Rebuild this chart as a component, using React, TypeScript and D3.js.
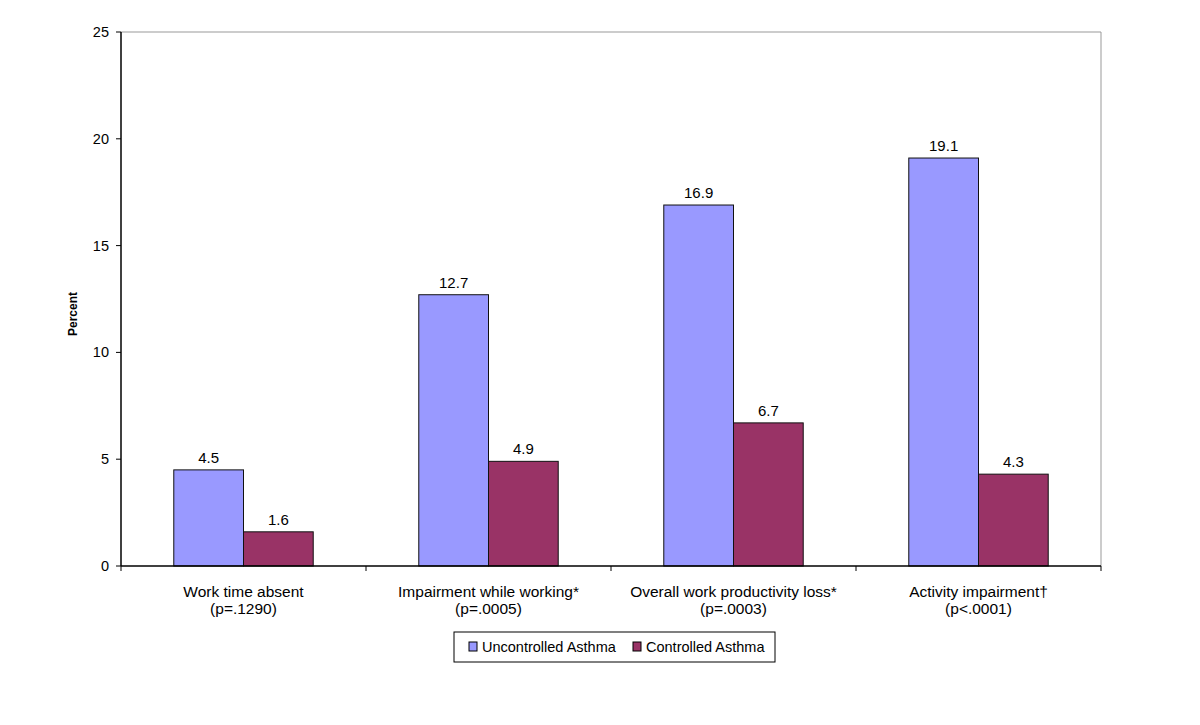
import React from "react";
import * as d3 from "d3";

const categories = [
  ["Work time absent", "(p=.1290)"],
  ["Impairment while working*", "(p=.0005)"],
  ["Overall work productivity loss*", "(p=.0003)"],
  ["Activity impairment\u2020", "(p<.0001)"],
];
const seriesNames = ["Uncontrolled Asthma", "Controlled Asthma"];
const uncontrolled = [4.5, 12.7, 16.9, 19.1];
const controlled = [1.6, 4.9, 6.7, 4.3];
const yTicks = [0, 5, 10, 15, 20, 25];
const colors = ["#9999FF", "#993366"];

export default function App() {
  const W = 1200, H = 725;
  const left = 121, right = 1101, top = 32, bottom = 566;
  const x = d3.scaleBand<number>().domain(d3.range(categories.length)).range([left, right]).paddingInner(0).paddingOuter(0);
  const x1 = d3.scaleBand<number>().domain([0, 1]).range([0, x.bandwidth()]).paddingOuter(0.757).paddingInner(0);
  const y = d3.scaleLinear().domain([0, 25]).range([bottom, top]);
  const series = [uncontrolled, controlled];
  const font = "Liberation Sans, Arial, sans-serif";
  return (
    <svg width={W} height={H} style={{ display: "block", position: "absolute", left: 0, top: 0 }} fontFamily={font}>
      <rect x={0} y={0} width={W} height={H} fill="#fff" />
      <line x1={left} x2={right} y1={top} y2={top} stroke="#999" strokeWidth={1} />
      <line x1={right} x2={right} y1={top} y2={bottom} stroke="#999" strokeWidth={1} />
      {series.map((vals, si) =>
        vals.map((v, i) => (
          <g key={`${si}-${i}`}>
            <rect
              x={(x(i) as number) + (x1(si) as number)}
              y={y(v)}
              width={x1.bandwidth()}
              height={bottom - y(v)}
              fill={colors[si]}
              stroke="#111"
              strokeWidth={1}
            />
            <text
              x={(x(i) as number) + (x1(si) as number) + x1.bandwidth() / 2}
              y={y(v) - 7}
              textAnchor="middle"
              fontSize={15}
              fill="#000"
            >
              {v.toFixed(1)}
            </text>
          </g>
        ))
      )}
      <line x1={left} x2={left} y1={top} y2={bottom} stroke="#000" strokeWidth={1.5} />
      <line x1={left} x2={right} y1={bottom} y2={bottom} stroke="#000" strokeWidth={1.5} />
      {yTicks.map((t) => (
        <g key={t}>
          <line x1={left - 5} x2={left} y1={y(t)} y2={y(t)} stroke="#000" />
          <text x={left - 12} y={y(t) + 5} textAnchor="end" fontSize={14.5}>{t}</text>
        </g>
      ))}
      {d3.range(categories.length + 1).map((i) => {
        const xx = left + i * x.bandwidth();
        return <line key={i} x1={xx} x2={xx} y1={bottom} y2={bottom + 5} stroke="#000" />;
      })}
      {categories.map((c, i) => (
        <text key={i} x={(x(i) as number) + x.bandwidth() / 2} y={597} textAnchor="middle" fontSize={15.5}>
          <tspan x={(x(i) as number) + x.bandwidth() / 2}>{c[0]}</tspan>
          <tspan x={(x(i) as number) + x.bandwidth() / 2} dy={16.5}>{c[1]}</tspan>
        </text>
      ))}
      <text transform={`translate(77,314) rotate(-90)`} textAnchor="middle" fontSize={12} fontWeight="bold">Percent</text>
      <rect x={454} y={632} width={321} height={30} fill="#fff" stroke="#000" strokeWidth={1} />
      {seriesNames.map((s, i) => {
        const lx = [469, 633][i];
        return (
          <g key={s}>
            <rect x={lx} y={642} width={8} height={9} fill={colors[i]} stroke="#000" strokeWidth={1} />
            <text x={lx + 13} y={652} fontSize={14.5}>{s}</text>
          </g>
        );
      })}
    </svg>
  );
}
